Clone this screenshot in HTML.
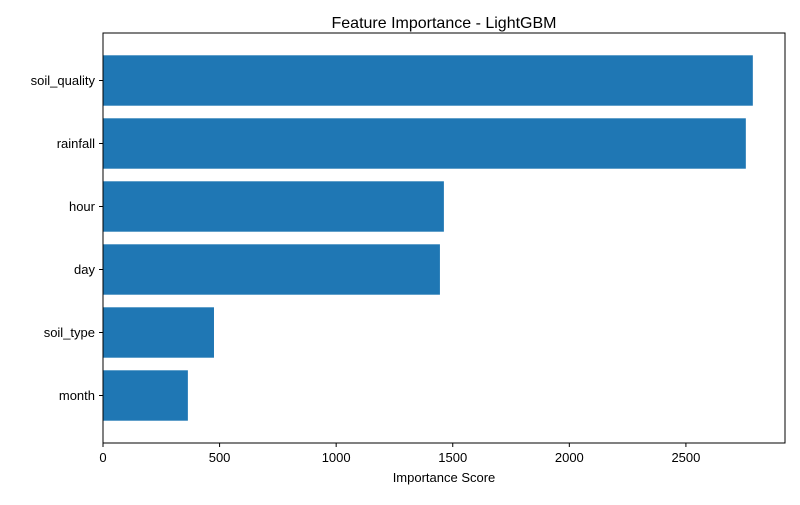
<!DOCTYPE html>
<html><head><meta charset="utf-8"><style>
body{margin:0;background:#fff;font-family:"Liberation Sans","DejaVu Sans",sans-serif}
</style></head><body>
<svg width="800" height="500" xmlns="http://www.w3.org/2000/svg">
<text x="444" y="28" text-anchor="middle" font-size="16">Feature Importance - LightGBM</text>
<g id="bars"></g>
<g id="axes"></g>
<text x="444" y="482" text-anchor="middle" font-size="13">Importance Score</text>
</svg>
<script>
const features = ["soil_quality","rainfall","hour","day","soil_type","month"];
const importance = [2787, 2757, 1462, 1445, 476, 364];
const xTicks = [0, 500, 1000, 1500, 2000, 2500];
const L=103,R=785,T=33,B=443,XMAX=2925,PAD=16;
const ns="http://www.w3.org/2000/svg";
const x=v=>L+v/XMAX*(R-L);
const slot=(B-T-2*PAD)/features.length;
const y=i=>T+PAD+slot*(i+0.5);
const bars=document.getElementById('bars'),axes=document.getElementById('axes');
function mk(t,a,p){const e=document.createElementNS(ns,t);for(const k in a)e.setAttribute(k,a[k]);p.appendChild(e);return e;}
features.forEach((f,i)=>{
  const r=mk('rect',{x:x(0),y:y(i)-slot*0.4,width:x(importance[i])-x(0),height:slot*0.8,fill:'#1f77b4'},bars);
  
  
  mk('line',{x1:L-4,x2:L,y1:y(i),y2:y(i),stroke:'#000'},axes);
  const t=mk('text',{x:L-8,y:y(i)+4.5,'text-anchor':'end','font-size':'13'},axes);
  t.textContent=f;
  
  
});
xTicks.forEach(v=>{
  mk('line',{x1:x(v),x2:x(v),y1:B,y2:B+4,stroke:'#000'},axes);
  const t=mk('text',{x:x(v),y:B+19,'text-anchor':'middle','font-size':'13'},axes);
  t.textContent=v;
  
  
});
const fr=mk('rect',{x:L,y:T,width:R-L,height:B-T,fill:'none',stroke:'#000','stroke-width':1},axes);


</script>
</body></html>
